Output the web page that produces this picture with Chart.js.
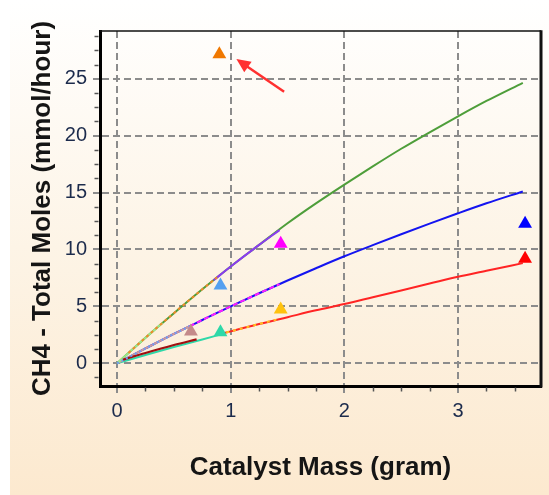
<!DOCTYPE html>
<html><head><meta charset="utf-8">
<style>html,body{margin:0;padding:0;background:#fff;overflow:hidden}</style>
<script src="https://cdn.jsdelivr.net/npm/chart.js@4.4.1/dist/chart.umd.min.js"></script>
</head><body>
<canvas id="c" width="549" height="495" style="display:block;width:549px;height:495px"></canvas>
<script>
// ---- tick labels / minor ticks ----
const xTicks = [0, 1, 2, 3];
const yTicks = [0, 5, 10, 15, 20, 25];
const xMinorTicks = [0.25, 0.5, 0.75, 1.25, 1.5, 1.75, 2.25, 2.5, 2.75, 3.25, 3.5];
const yMinorTicks = [-1.25, 1.25, 2.5, 3.75, 6.25, 7.5, 8.75, 11.25, 12.5, 13.75, 16.25, 17.5, 18.75, 21.25, 22.5, 23.75, 26.25, 27.5, 28.75];

// ---- model curves ----
const greenX = [0, 0.25, 0.5, 0.75, 1, 1.25, 1.5, 1.75, 2, 2.25, 2.5, 2.75, 3, 3.25, 3.57];
const greenY = [0, 2.25, 4.4, 6.5, 8.5, 10.4, 12.3, 14.05, 15.7, 17.3, 18.85, 20.3, 21.7, 23.05, 24.65];
const blueX  = [0, 0.25, 0.5, 0.75, 1, 1.25, 1.5, 1.75, 2, 2.25, 2.5, 2.75, 3, 3.25, 3.57];
const blueY  = [0, 1.3, 2.58, 3.8, 5.0, 6.15, 7.27, 8.35, 9.4, 10.38, 11.34, 12.27, 13.18, 14.06, 15.1];
const redX   = [0.9, 1, 1.25, 1.5, 1.75, 2, 2.25, 2.5, 2.75, 3, 3.25, 3.57];
const redY   = [2.55, 2.8, 3.45, 4.05, 4.65, 5.2, 5.8, 6.4, 7.0, 7.6, 8.12, 8.8];

const orangeSegX = [0.1, 0.25, 0.5, 0.75, 0.88];
const orangeSegY = [0.9, 2.25, 4.4, 6.5, 7.55];
const lightGreenSegX = [0, 0.2, 0.4];
const lightGreenSegY = [0, 1.8, 3.55];
const purpleSegX = [0.85, 1, 1.25, 1.43];
const purpleSegY = [7.3, 8.5, 10.4, 11.7];
const rosySegX = [0, 0.25, 0.5, 0.64];
const rosySegY = [0, 1.3, 2.58, 3.25];
const magentaSegX = [0.64, 0.75, 1, 1.25, 1.43];
const magentaSegY = [3.25, 3.8, 5.0, 6.15, 6.95];
const maroonSegX = [0.05, 0.25, 0.5, 0.7];
const maroonSegY = [0.3, 0.9, 1.6, 2.1];
const tealSegX = [0, 0.25, 0.5, 0.75, 0.9];
const tealSegY = [0, 0.72, 1.42, 2.08, 2.5];
const yellowSegX = [0.9, 1, 1.25, 1.43];
const yellowSegY = [2.55, 2.8, 3.45, 3.9];

// ---- measured points (triangles) ----
const markerX = [0.9, 3.59, 3.59, 1.44, 0.91, 1.44, 0.65, 0.91];
const markerY = [27.16, 12.26, 9.18, 10.5, 6.84, 4.73, 2.79, 2.73];
const markerColors = ['#F07800', '#0000FF', '#FF0000', '#FF00FF', '#55A0F0', '#FFC20E', '#C48A8A', '#2ED8A8'];

// ---- annotation arrow ----
const arrowTail = [1.47, 23.86];
const arrowHead = [1.05, 26.73];

const pts = (xs, ys) => xs.map((x, i) => ({x: x, y: ys[i]}));
const FONT = "'Liberation Sans', Arial, sans-serif";

function curve(xs, ys, color, order, width, dash) {
  return {
    type: 'line', data: pts(xs, ys), borderColor: color, backgroundColor: color,
    borderWidth: width || 2, borderDash: dash || [], pointRadius: 0, showLine: true,
    fill: false, cubicInterpolationMode: 'monotone', order: order
  };
}

const datasets = [
  curve(greenX, greenY, '#4E9E3A', 10, 2),
  curve(lightGreenSegX, lightGreenSegY, '#9BE88A', 9, 2),
  curve(orangeSegX, orangeSegY, '#F08A2A', 8, 2, [3, 3]),
  curve(purpleSegX, purpleSegY, '#8A3CF0', 8, 2),
  curve(blueX, blueY, '#1414F0', 10, 2),
  curve(rosySegX, rosySegY, '#D09A9A', 9, 2),
  curve(rosySegX, rosySegY, '#6E9CF5', 8, 2, [2, 3]),
  curve(magentaSegX, magentaSegY, '#FF1EFF', 8, 2, [5, 3]),
  curve(redX, redY, '#FF2424', 10, 2),
  curve(yellowSegX, yellowSegY, '#FFC020', 8, 2, [3, 4]),
  curve(tealSegX, tealSegY, '#2ED8A8', 9, 2),
  curve(maroonSegX, maroonSegY, '#A01010', 8, 2.2),
  {
    type: 'scatter', data: pts(markerX, markerY), pointStyle: 'triangle',
    pointRadius: 8, pointHoverRadius: 8, borderWidth: 0,
    pointBackgroundColor: markerColors, pointBorderColor: markerColors, order: 0
  }
];

const bgPlugin = {
  id: 'bg',
  beforeDraw(chart) {
    const ctx = chart.ctx;
    ctx.save();
    ctx.fillStyle = '#ffffff';
    ctx.fillRect(0, 0, chart.width, chart.height);
    const g = ctx.createLinearGradient(0, 0, 0, chart.height);
    g.addColorStop(0, '#FFFFFF');
    g.addColorStop(0.5, '#FDF4E6');
    g.addColorStop(1, '#FCE9CF');
    ctx.fillStyle = g;
    ctx.fillRect(10, 0, chart.width - 10, chart.height);
    ctx.restore();
  },
  afterDatasetsDraw(chart) {
    const {ctx, chartArea: a, scales: {x, y}} = chart;
    ctx.save();
    // frame: top thin, right thick
    ctx.strokeStyle = '#111';
    ctx.lineWidth = 1.5;
    ctx.beginPath(); ctx.moveTo(a.left, a.top); ctx.lineTo(a.right, a.top); ctx.stroke();
    ctx.lineWidth = 3;
    ctx.beginPath(); ctx.moveTo(a.right, a.top - 0.75); ctx.lineTo(a.right, a.bottom + 1.5); ctx.stroke();
    // minor ticks
    ctx.strokeStyle = '#555';
    ctx.lineWidth = 1.5;
    yMinorTicks.forEach(v => {
      const py = Math.round(y.getPixelForValue(v)) + 0.5;
      ctx.beginPath(); ctx.moveTo(a.left - 5.5, py); ctx.lineTo(a.left - 1.5, py); ctx.stroke();
    });
    xMinorTicks.forEach(v => {
      const px = Math.round(x.getPixelForValue(v)) + 0.5;
      ctx.beginPath(); ctx.moveTo(px, a.bottom + 1.5); ctx.lineTo(px, a.bottom + 5.5); ctx.stroke();
    });
    // arrow
    const tx = x.getPixelForValue(arrowTail[0]), ty = y.getPixelForValue(arrowTail[1]);
    const hx = x.getPixelForValue(arrowHead[0]), hy = y.getPixelForValue(arrowHead[1]);
    const ang = Math.atan2(hy - ty, hx - tx);
    const L = 14, W = 6.5;
    ctx.strokeStyle = '#FF3030';
    ctx.fillStyle = '#FF3030';
    ctx.lineWidth = 2.5;
    ctx.beginPath(); ctx.moveTo(tx, ty);
    ctx.lineTo(hx - Math.cos(ang) * L * 0.8, hy - Math.sin(ang) * L * 0.8); ctx.stroke();
    ctx.beginPath();
    ctx.moveTo(hx, hy);
    ctx.lineTo(hx - Math.cos(ang) * L - Math.sin(ang) * W, hy - Math.sin(ang) * L + Math.cos(ang) * W);
    ctx.lineTo(hx - Math.cos(ang) * L + Math.sin(ang) * W, hy - Math.sin(ang) * L - Math.cos(ang) * W);
    ctx.closePath(); ctx.fill();
    ctx.restore();
  }
};

new Chart(document.getElementById('c'), {
  type: 'scatter',
  data: {datasets: datasets},
  plugins: [bgPlugin],
  options: {
    responsive: false,
    animation: false,
    events: [],
    layout: {padding: {top: 31, right: 3, left: 0, bottom: 0}},
    plugins: {legend: {display: false}, tooltip: {enabled: false}},
    scales: {
      x: {
        type: 'linear', min: -0.15, max: 3.73,
        afterBuildTicks: s => { s.ticks = xTicks.map(v => ({value: v})); },
        afterFit: s => { s.height = 109; },
        grid: {color: '#8C8C8C', lineWidth: 2, tickLength: 9, tickColor: '#8C8C8C', tickWidth: 2, tickBorderDash: [5, 3]},
        border: {display: true, color: '#000', width: 3, dash: [7, 4]},
        ticks: {font: {family: FONT, size: 20}, color: '#1C2B4C', padding: 4, maxRotation: 0},
        title: {display: true, text: 'Catalyst Mass (gram)', font: {family: FONT, size: 26, weight: 'bold'}, color: '#151515', padding: {top: 0, bottom: 12}}
      },
      y: {
        type: 'linear', min: -2, max: 29.2,
        afterBuildTicks: s => { s.ticks = yTicks.map(v => ({value: v})); },
        afterFit: s => { s.width = 100; },
        grid: {color: '#8C8C8C', lineWidth: 2, tickLength: 7, tickColor: '#8C8C8C', tickWidth: 2, tickBorderDash: []},
        border: {display: true, color: '#000', width: 3, dash: [7, 4]},
        ticks: {font: {family: FONT, size: 20}, color: '#1C2B4C', padding: 6},
        title: {display: true, text: 'CH4 - Total Moles (mmol/hour)', font: {family: FONT, size: 26, weight: 'bold'}, color: '#151515', padding: {top: 27, bottom: 0}}
      }
    }
  }
});
</script>
</body></html>
